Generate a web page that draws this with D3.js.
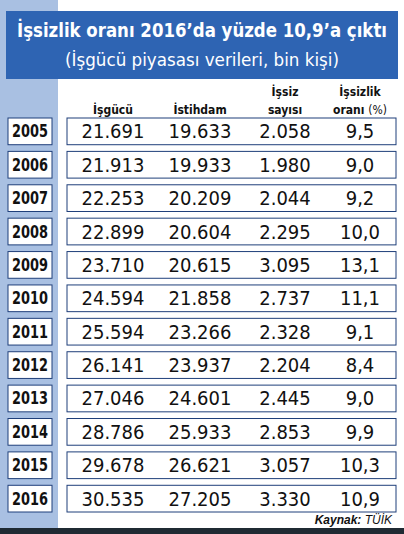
<!DOCTYPE html>
<html><head><meta charset="utf-8">
<script src="https://cdn.jsdelivr.net/npm/d3@7"></script>
<style>body{margin:0;background:#fff}</style>
</head><body><svg id="c" width="404" height="534"></svg>
<script>
const years = ["2005","2006","2007","2008","2009","2010","2011","2012","2013","2014","2015","2016"];
const isgucu = ["21.691","21.913","22.253","22.899","23.710","24.594","25.594","26.141","27.046","28.786","29.678","30.535"];
const istihdam = ["19.633","19.933","20.209","20.604","20.615","21.858","23.266","23.937","24.601","25.933","26.621","27.205"];
const issiz = ["2.058","1.980","2.044","2.295","3.095","2.737","2.328","2.204","2.445","2.853","3.057","3.330"];
const oran = ["9,5","9,0","9,2","10,0","13,1","11,1","9,1","8,4","9,0","9,9","10,3","10,9"];
const columns = [isgucu, istihdam, issiz, oran];

const svg = d3.select("#c");
const cond = "'DejaVu Sans Condensed', 'DejaVu Sans', sans-serif";

svg.append("rect").attr("x", 0).attr("y", 0).attr("width", 58).attr("height", 528).attr("fill", "#a9c0e2");
svg.append("rect").attr("x", 0).attr("y", 528).attr("width", 404).attr("height", 6).attr("fill", "#1f2a33");
svg.append("rect").attr("x", 6).attr("y", 11).attr("width", 392).attr("height", 68).attr("fill", "#2e64b3");

svg.append("text").attr("x", 202).attr("y", 37).attr("text-anchor", "middle")
  .attr("font-family", cond).attr("font-weight", "bold").attr("font-size", 19).attr("fill", "#fff")
  .attr("textLength", 370).attr("lengthAdjust", "spacingAndGlyphs")
  .text("İşsizlik oranı 2016’da yüzde 10,9’a çıktı");
svg.append("text").attr("x", 202).attr("y", 66).attr("text-anchor", "middle")
  .attr("font-family", cond).attr("font-size", 18).attr("fill", "#fff")
  .attr("textLength", 274).attr("lengthAdjust", "spacingAndGlyphs")
  .text("(İşgücü piyasası verileri, bin kişi)");

const y = d3.scaleBand().domain(years).range([118, 512]).paddingInner(0.2);
const x = d3.scaleOrdinal().domain([0, 1, 2, 3]).range([113, 200, 285, 360]);

const hdr = svg.append("g").attr("font-family", cond).attr("font-weight", "bold")
  .attr("font-size", 12).attr("fill", "#111").attr("text-anchor", "middle");
hdr.append("text").attr("x", x(0)).attr("y", 114).text("İşgücü");
hdr.append("text").attr("x", x(1)).attr("y", 114).text("İstihdam");
hdr.append("text").attr("x", x(2)).attr("y", 96).text("İşsiz");
hdr.append("text").attr("x", x(2)).attr("y", 114).text("sayısı");
hdr.append("text").attr("x", x(3)).attr("y", 96).text("İşsizlik");
const h4 = hdr.append("text").attr("x", x(3)).attr("y", 114).text("oranı ");
h4.append("tspan").attr("font-weight", "normal").text("(%)");

const row = svg.append("g").selectAll("g").data(years).join("g")
  .attr("transform", d => `translate(0,${y(d)})`);
row.append("rect").attr("x", 8).attr("width", 44).attr("height", y.bandwidth())
  .attr("fill", "#fff").attr("stroke", "#1f3f7a").attr("stroke-width", 1);
row.append("text").attr("x", 30).attr("y", y.bandwidth() / 2 + 6).attr("text-anchor", "middle")
  .attr("font-family", cond).attr("font-weight", "bold").attr("font-size", 17).attr("fill", "#111")
  .attr("textLength", 36).attr("lengthAdjust", "spacingAndGlyphs")
  .text(d => d);
row.append("rect").attr("x", 67).attr("width", 329).attr("height", y.bandwidth())
  .attr("fill", "#fff").attr("stroke", "#1f3f7a").attr("stroke-width", 1);
columns.forEach((col, j) => {
  row.append("text").attr("x", x(j)).attr("y", y.bandwidth() / 2 + 7).attr("text-anchor", "middle")
    .attr("font-family", "'Liberation Sans Narrow', " + cond).attr("font-size", 20).attr("fill", "#111")
    .text((d, i) => col[i]);
});

const src = svg.append("text").attr("x", 392).attr("y", 524).attr("text-anchor", "end")
  .attr("font-family", "'Liberation Sans', sans-serif").attr("font-size", 12).attr("font-style", "italic").attr("fill", "#111");
src.append("tspan").attr("font-weight", "bold").text("Kaynak: ");
src.append("tspan").text("TÜİK");
</script></body></html>
